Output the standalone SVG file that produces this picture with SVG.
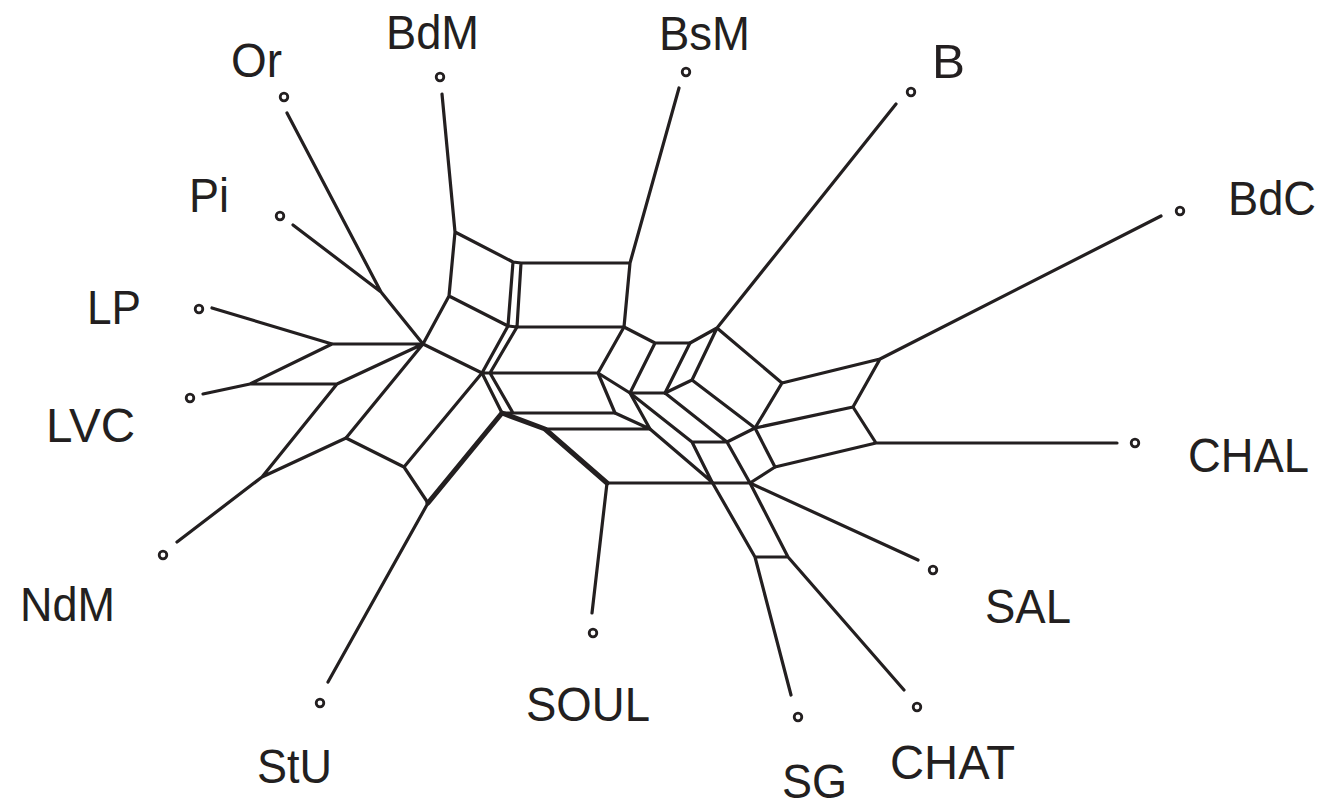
<svg xmlns="http://www.w3.org/2000/svg" width="1325" height="809" viewBox="0 0 1325 809">
<style>
.e{stroke:#231f20;stroke-width:3.2;stroke-linecap:round;stroke-linejoin:round;fill:none}
.t{stroke:#231f20;stroke-width:5;stroke-linecap:round;stroke-linejoin:round;fill:none}
.d{stroke:#231f20;stroke-width:2.8;fill:#fff}
.l{font-family:"Liberation Sans",Arial,Helvetica,sans-serif;font-size:48px;fill:#231f20}
</style>
<rect width="1325" height="809" fill="#fff"/>
<g id="connectors">
<path class="e" d="M287,113L381,292M293,225L381,292M381,292L423,344"/>
<path class="e" d="M212,308L332,344L423,344M203,394L250,384L332,344M250,384L337,384L423,344M337,384L262,477L346,438L423,344M262,477L177,542"/>
<path class="e" d="M346,438L404,467L482,373M404,467L428,503L328,682"/>
<path class="t" d="M428,503L502,413L545,429L607,483"/>
<path class="e" d="M423,344L482,373M423,344L449,296L455,232L442,94M455,232L513,262L521,263L630,263L679,88M449,296L508,326L517,327L624,327L630,263M513,262L508,326M521,263L517,327"/>
<path class="e" d="M508,326L482,373L490,373L517,327M482,373L502,413L513,413L490,373M490,373L598,373L624,327M513,413L615,413L598,373"/>
<path class="e" d="M545,429L650,429L615,413M598,373L630,393L665,393M630,393L650,429M624,327L655,343L690,343L665,393M655,343L630,393"/>
<path class="e" d="M690,343L717,328L896,104M717,328L692,380L665,393M717,328L782,383L755,428L692,380M782,383L880,359L1161,216M880,359L853,407L755,428M853,407L876,443L1117,443M876,443L775,467L755,428"/>
<path class="e" d="M630,393L692,442L727,442L665,393M727,442L755,428M650,429L712,482M692,442L712,482M727,442L750,483L775,467M607,483L750,483M607,483L592,613M750,483L918,560"/>
<path class="e" d="M712,482L755,557L788,557L750,483M755,557L791,695M788,557L904,690"/>
</g>
<g id="Or"><circle class="d" cx="284" cy="97" r="3.8"/><text class="l" x="231" y="77" textLength="51" lengthAdjust="spacingAndGlyphs">Or</text></g>
<g id="BdM"><circle class="d" cx="440" cy="77" r="3.8"/><text class="l" x="386" y="49" textLength="93" lengthAdjust="spacingAndGlyphs">BdM</text></g>
<g id="BsM"><circle class="d" cx="686" cy="72" r="3.8"/><text class="l" x="659" y="50" textLength="91" lengthAdjust="spacingAndGlyphs">BsM</text></g>
<g id="B"><circle class="d" cx="911" cy="92" r="3.8"/><text class="l" x="932" y="78" textLength="33" lengthAdjust="spacingAndGlyphs">B</text></g>
<g id="BdC"><circle class="d" cx="1180" cy="211" r="3.8"/><text class="l" x="1228" y="215" textLength="88" lengthAdjust="spacingAndGlyphs">BdC</text></g>
<g id="CHAL"><circle class="d" cx="1135" cy="443" r="3.8"/><text class="l" x="1188" y="472" textLength="121" lengthAdjust="spacingAndGlyphs">CHAL</text></g>
<g id="SAL"><circle class="d" cx="933" cy="570" r="3.8"/><text class="l" x="985" y="623" textLength="86" lengthAdjust="spacingAndGlyphs">SAL</text></g>
<g id="CHAT"><circle class="d" cx="917" cy="707" r="3.8"/><text class="l" x="890" y="779" textLength="125" lengthAdjust="spacingAndGlyphs">CHAT</text></g>
<g id="SG"><circle class="d" cx="798" cy="717" r="3.8"/><text class="l" x="782" y="798" textLength="65" lengthAdjust="spacingAndGlyphs">SG</text></g>
<g id="SOUL"><circle class="d" cx="593" cy="633" r="3.8"/><text class="l" x="526" y="721" textLength="124" lengthAdjust="spacingAndGlyphs">SOUL</text></g>
<g id="StU"><circle class="d" cx="320" cy="703" r="3.8"/><text class="l" x="257" y="783" textLength="75" lengthAdjust="spacingAndGlyphs">StU</text></g>
<g id="NdM"><circle class="d" cx="163" cy="555" r="3.8"/><text class="l" x="20" y="621" textLength="95" lengthAdjust="spacingAndGlyphs">NdM</text></g>
<g id="LVC"><circle class="d" cx="190" cy="398" r="3.8"/><text class="l" x="46" y="442" textLength="89" lengthAdjust="spacingAndGlyphs">LVC</text></g>
<g id="LP"><circle class="d" cx="199" cy="309" r="3.8"/><text class="l" x="87" y="324" textLength="54" lengthAdjust="spacingAndGlyphs">LP</text></g>
<g id="Pi"><circle class="d" cx="280" cy="216" r="3.8"/><text class="l" x="189" y="212" textLength="40" lengthAdjust="spacingAndGlyphs">Pi</text></g>
</svg>
